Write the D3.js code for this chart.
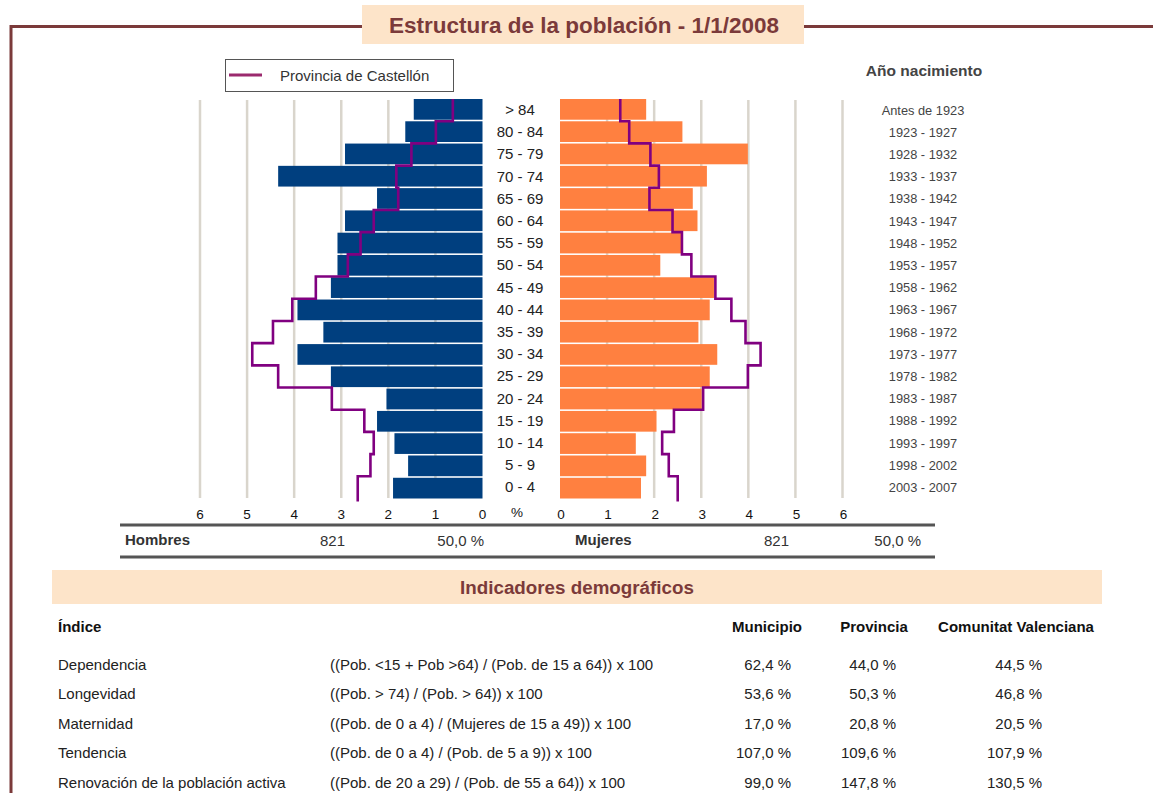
<!DOCTYPE html>
<html>
<head>
<meta charset="utf-8">
<script src="https://cdn.jsdelivr.net/npm/d3@7"></script>
<style>
  body { margin: 0; background: #fff; }
  svg { display: block; font-family: "Liberation Sans", Arial, sans-serif; }
</style>
</head>
<body>
<svg width="1153" height="793"></svg>
<script>
// age groups, top to bottom
const ages = ["> 84", "80 - 84", "75 - 79", "70 - 74", "65 - 69", "60 - 64", "55 - 59", "50 - 54", "45 - 49",
  "40 - 44", "35 - 39", "30 - 34", "25 - 29", "20 - 24", "15 - 19", "10 - 14", "5 - 9", "0 - 4"];
const birthYears = ["Antes de 1923", "1923 - 1927", "1928 - 1932", "1933 - 1937", "1938 - 1942", "1943 - 1947",
  "1948 - 1952", "1953 - 1957", "1958 - 1962", "1963 - 1967", "1968 - 1972", "1973 - 1977", "1978 - 1982",
  "1983 - 1987", "1988 - 1992", "1993 - 1997", "1998 - 2002", "2003 - 2007"];

// % of total population
const hombres = [1.46, 1.64, 2.92, 4.34, 2.24, 2.92, 3.08, 3.08, 3.22, 3.93, 3.38, 3.93, 3.22, 2.04, 2.24, 1.87, 1.58, 1.90];
const mujeres = [1.83, 2.60, 3.99, 3.12, 2.82, 2.92, 2.58, 2.13, 3.27, 3.18, 2.94, 3.34, 3.18, 3.01, 2.05, 1.61, 1.83, 1.72];
const provHombres = [0.63, 0.99, 1.51, 1.83, 1.79, 2.31, 2.59, 2.86, 3.54, 4.04, 4.45, 4.89, 4.34, 3.20, 2.51, 2.31, 2.38, 2.65];
const provMujeres = [1.28, 1.47, 1.92, 2.10, 1.90, 2.39, 2.59, 2.79, 3.30, 3.64, 3.94, 4.26, 3.99, 3.04, 2.42, 2.17, 2.31, 2.50];

const ticks = [0, 1, 2, 3, 4, 5, 6];
const totals = { hombres: "821", hombresPct: "50,0 %", mujeres: "821", mujeresPct: "50,0 %" };

const indices = ["Dependencia", "Longevidad", "Maternidad", "Tendencia", "Renovación de la población activa"];
const formulas = [
  "((Pob. <15 + Pob >64) / (Pob. de 15 a 64)) x 100",
  "((Pob. > 74) / (Pob. > 64)) x 100",
  "((Pob. de 0 a 4) / (Mujeres de 15 a 49)) x 100",
  "((Pob. de 0 a 4) / (Pob. de 5 a 9)) x 100",
  "((Pob. de 20 a 29) / (Pob. de 55 a 64)) x 100"
];
const municipio = ["62,4 %", "53,6 %", "17,0 %", "107,0 %", "99,0 %"];
const provincia = ["44,0 %", "50,3 %", "20,8 %", "109,6 %", "147,8 %"];
const comunitat = ["44,5 %", "46,8 %", "20,5 %", "107,9 %", "130,5 %"];

const svg = d3.select("svg");
const brown = "#7b3a3a";

// frame + title
svg.append("path")
  .attr("d", "M11,793 V26.5 H362 M804,26.5 H1153")
  .attr("fill", "none").attr("stroke", brown).attr("stroke-width", 3);
svg.append("rect").attr("x", 362).attr("y", 5).attr("width", 442).attr("height", 39).attr("fill", "#fde4c9");
svg.append("text").attr("x", 584).attr("y", 33).attr("text-anchor", "middle")
  .attr("font-size", 22.5).attr("font-weight", "bold").attr("fill", brown)
  .text("Estructura de la población - 1/1/2008");

// scales
const xL = d3.scaleLinear().domain([0, 6]).range([482.5, 200]);
const xR = d3.scaleLinear().domain([0, 6]).range([560, 842.5]);
const y = d3.scaleBand().domain(ages).range([99, 498.5]).paddingInner(0.07).paddingOuter(0);
const rowY = d3.scaleBand().domain(ages).range([99, 498.5]);

// grid
const grid = svg.append("g").attr("stroke", "#d9d5cc").attr("stroke-width", 2.5);
grid.selectAll(".gl").data(ticks.filter(d => d > 0)).join("line")
  .attr("x1", d => xL(d)).attr("x2", d => xL(d)).attr("y1", 100).attr("y2", 498);
grid.selectAll(".gr").data(ticks.filter(d => d > 0)).join("line")
  .attr("x1", d => xR(d)).attr("x2", d => xR(d)).attr("y1", 100).attr("y2", 498);

// bars
svg.append("g").selectAll("rect").data(hombres).join("rect")
  .attr("x", d => xL(d)).attr("width", d => xL(0) - xL(d))
  .attr("y", (d, i) => y(ages[i])).attr("height", y.bandwidth())
  .attr("fill", "#003f7f");
svg.append("g").selectAll("rect").data(mujeres).join("rect")
  .attr("x", xR(0)).attr("width", d => xR(d) - xR(0))
  .attr("y", (d, i) => y(ages[i])).attr("height", y.bandwidth())
  .attr("fill", "#ff8040");

// province step lines
function steps(vals, xs) {
  const pts = [];
  vals.forEach((v, i) => {
    const y0 = rowY(ages[i]);
    pts.push([xs(v), y0]);
    pts.push([xs(v), i === vals.length - 1 ? y0 + rowY.bandwidth() + 3 : y0 + rowY.bandwidth()]);
  });
  return d3.line()(pts);
}
svg.append("path").attr("d", steps(provHombres, xL))
  .attr("fill", "none").attr("stroke", "#800080").attr("stroke-width", 2.6);
svg.append("path").attr("d", steps(provMujeres, xR))
  .attr("fill", "none").attr("stroke", "#800080").attr("stroke-width", 2.6);

// age labels
svg.append("g").selectAll("text").data(ages).join("text")
  .attr("x", 520).attr("y", d => rowY(d) + rowY.bandwidth() / 2 + 5)
  .attr("text-anchor", "middle").attr("font-size", 15).attr("fill", "#222")
  .text(d => d);

// birth years
svg.append("text").attr("x", 924).attr("y", 76).attr("text-anchor", "middle")
  .attr("font-size", 15.5).attr("font-weight", "bold").attr("fill", "#444").text("Año nacimiento");
svg.append("g").selectAll("text").data(birthYears).join("text")
  .attr("x", 923).attr("y", (d, i) => rowY(ages[i]) + rowY.bandwidth() / 2 + 4.5)
  .attr("text-anchor", "middle").attr("font-size", 12.8).attr("fill", "#444")
  .text(d => d);

// axes tick labels
svg.append("g").selectAll("text").data(ticks).join("text")
  .attr("x", d => xL(d)).attr("y", 519).attr("text-anchor", "middle")
  .attr("font-size", 13.5).attr("fill", "#111").text(d => d);
svg.append("g").selectAll("text").data(ticks).join("text")
  .attr("x", d => xR(d) + 1).attr("y", 519).attr("text-anchor", "middle")
  .attr("font-size", 13.5).attr("fill", "#111").text(d => d);
svg.append("text").attr("x", 517).attr("y", 517).attr("text-anchor", "middle")
  .attr("font-size", 13.5).attr("fill", "#111").text("%");

// legend
svg.append("rect").attr("x", 225.5).attr("y", 59.5).attr("width", 228).attr("height", 32)
  .attr("fill", "#fff").attr("stroke", "#555").attr("stroke-width", 1);
svg.append("line").attr("x1", 229).attr("x2", 262).attr("y1", 75).attr("y2", 75)
  .attr("stroke", "#9b2a6e").attr("stroke-width", 3);
svg.append("text").attr("x", 280).attr("y", 80.5).attr("font-size", 15).attr("fill", "#333")
  .text("Provincia de Castellón");

// totals bar
svg.append("line").attr("x1", 120).attr("x2", 935).attr("y1", 525).attr("y2", 525)
  .attr("stroke", "#555").attr("stroke-width", 3);
svg.append("line").attr("x1", 120).attr("x2", 935).attr("y1", 557).attr("y2", 557)
  .attr("stroke", "#555").attr("stroke-width", 3);
const tot = svg.append("g").attr("font-size", 15).attr("fill", "#333");
tot.append("text").attr("x", 125).attr("y", 545).attr("font-weight", "bold").text("Hombres");
tot.append("text").attr("x", 345).attr("y", 546).attr("text-anchor", "end").text(totals.hombres);
tot.append("text").attr("x", 484).attr("y", 546).attr("text-anchor", "end").text(totals.hombresPct);
tot.append("text").attr("x", 575).attr("y", 545).attr("font-weight", "bold").text("Mujeres");
tot.append("text").attr("x", 789).attr("y", 546).attr("text-anchor", "end").text(totals.mujeres);
tot.append("text").attr("x", 921).attr("y", 546).attr("text-anchor", "end").text(totals.mujeresPct);

// indicators
svg.append("rect").attr("x", 52).attr("y", 570).attr("width", 1050).attr("height", 34).attr("fill", "#fde4c9");
svg.append("text").attr("x", 577).attr("y", 594).attr("text-anchor", "middle")
  .attr("font-size", 18.8).attr("font-weight", "bold").attr("fill", brown).text("Indicadores demográficos");

const hdr = svg.append("g").attr("font-size", 15).attr("font-weight", "bold").attr("fill", "#111");
hdr.append("text").attr("x", 58).attr("y", 632).text("Índice");
hdr.append("text").attr("x", 767).attr("y", 632).attr("text-anchor", "middle").text("Municipio");
hdr.append("text").attr("x", 874).attr("y", 632).attr("text-anchor", "middle").text("Provincia");
hdr.append("text").attr("x", 1016).attr("y", 632).attr("text-anchor", "middle").text("Comunitat Valenciana");

const rowYs = d3.scalePoint().domain(indices).range([670, 787.5]);
const body = svg.append("g").attr("font-size", 15).attr("fill", "#222");
body.selectAll(".n").data(indices).join("text").attr("x", 58).attr("y", d => rowYs(d)).text(d => d);
body.selectAll(".f").data(formulas).join("text").attr("x", 330).attr("y", (d, i) => rowYs(indices[i])).text(d => d);
body.selectAll(".m").data(municipio).join("text").attr("x", 791).attr("text-anchor", "end")
  .attr("y", (d, i) => rowYs(indices[i])).text(d => d);
body.selectAll(".p").data(provincia).join("text").attr("x", 896).attr("text-anchor", "end")
  .attr("y", (d, i) => rowYs(indices[i])).text(d => d);
body.selectAll(".c").data(comunitat).join("text").attr("x", 1042).attr("text-anchor", "end")
  .attr("y", (d, i) => rowYs(indices[i])).text(d => d);
</script>
</body>
</html>
